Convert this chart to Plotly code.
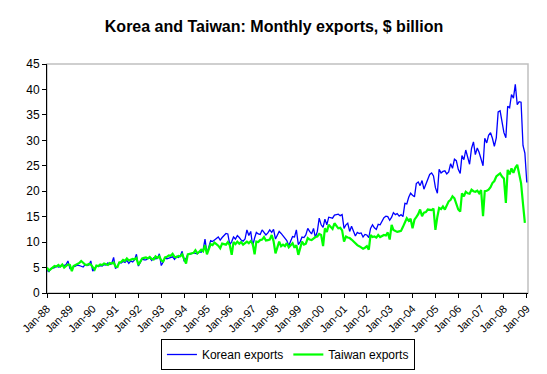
import pandas as pd
import plotly.graph_objects as go

# Monthly exports, $ billion (Jan-88 onward)
korea = [
    4.4, 4.2, 4.8, 4.9, 5.0, 5.3, 5.1, 5.2, 5.5, 5.4, 5.6, 6.3,   # 1988
    4.8, 4.9, 5.2, 5.3, 5.5, 5.4, 5.2, 5.1, 5.6, 5.4, 5.5, 6.3,   # 1989
    4.3, 4.8, 5.3, 5.2, 5.4, 5.3, 5.6, 5.5, 5.9, 5.6, 5.8, 7.0,   # 1990
    4.8, 5.3, 6.0, 5.9, 6.2, 6.0, 6.4, 5.8, 6.3, 6.1, 6.5, 7.6,   # 1991
    5.3, 6.0, 6.7, 6.5, 6.5, 6.8, 6.9, 6.4, 6.9, 6.7, 6.8, 7.7,   # 1992
    5.4, 6.1, 6.9, 6.7, 6.8, 7.0, 7.1, 6.6, 7.2, 7.0, 7.3, 8.2,   # 1993
    6.2, 6.8, 7.6, 7.6, 7.8, 7.9, 7.8, 7.7, 8.1, 8.0, 8.5, 10.6,  # 1994
    7.8, 9.4, 10.3, 10.1, 10.5, 10.7, 11.0, 10.4, 10.9, 11.2, 11.7, 11.6,  # 1995
    9.5, 10.1, 11.0, 10.6, 11.3, 10.9, 10.4, 10.2, 10.6, 12.4, 11.3, 12.1,  # 1996
    9.2, 10.8, 11.9, 11.6, 11.5, 12.4, 11.9, 11.4, 11.8, 12.4, 11.9, 12.5,  # 1997
    10.6, 11.4, 12.1, 11.7, 11.2, 10.8, 10.3, 9.3, 10.2, 11.1, 11.0, 12.4,  # 1998
    9.5, 10.1, 11.0, 10.9, 11.4, 12.7, 12.1, 11.6, 12.7, 10.9, 12.1, 14.7,  # 1999
    13.4, 12.9, 14.5, 13.4, 14.9, 14.8, 14.7, 15.3, 15.4, 15.5, 15.2, 15.4,  # 2000
    12.7, 13.4, 13.7, 12.1, 13.1, 12.0, 11.2, 11.9, 11.7, 11.8, 11.0, 11.5,  # 2001
    11.4, 10.9, 12.7, 13.4, 12.8, 12.5, 13.5, 13.4, 14.0, 14.8, 15.1, 15.0,  # 2002
    14.3, 14.9, 15.8, 15.4, 15.6, 15.1, 15.4, 15.0, 17.6, 17.5, 18.8, 19.6,  # 2003
    19.2, 18.9, 21.5, 21.8, 21.1, 22.1, 20.4, 21.5, 22.6, 23.3, 23.6, 23.0,  # 2004
    20.7, 19.6, 24.3, 23.6, 23.9, 24.0, 23.4, 23.8, 25.4, 24.5, 26.3, 26.0,  # 2005
    24.3, 23.5, 27.0, 26.2, 28.1, 26.7, 25.3, 28.4, 29.7, 27.2, 28.5, 27.6,  # 2006
    26.3, 25.0, 30.4, 29.5, 31.0, 31.5, 30.4, 28.8, 30.5, 35.6, 35.8, 33.5,  # 2007
    31.5, 30.5, 36.7, 36.4, 39.0, 38.3, 41.0, 37.0, 37.6, 37.5, 29.0, 27.5,  # 2008
    21.7,                                                           # 2009
]

taiwan = [
    5.0, 4.4, 4.7, 5.0, 5.3, 5.2, 5.5, 5.2, 5.6, 5.0, 5.4, 5.6,   # 1988
    5.5, 4.3, 5.3, 5.5, 5.8, 5.9, 6.3, 6.0, 5.6, 5.5, 5.7, 5.6,   # 1989
    5.0, 4.6, 5.4, 5.3, 5.6, 5.5, 5.8, 5.7, 5.5, 5.9, 5.8, 6.0,   # 1990
    5.2, 5.1, 6.0, 6.1, 6.5, 6.3, 6.8, 6.4, 6.6, 6.7, 6.6, 6.9,   # 1991
    5.5, 6.2, 6.8, 6.9, 7.0, 6.8, 7.1, 6.7, 6.6, 7.2, 6.9, 7.2,   # 1992
    6.4, 6.2, 7.0, 7.1, 7.4, 7.3, 7.7, 7.1, 7.0, 7.3, 7.2, 7.6,   # 1993
    6.5, 5.8, 7.6, 7.7, 7.8, 7.9, 8.4, 7.8, 8.1, 8.5, 8.2, 9.4,   # 1994
    7.6, 8.6, 9.6, 9.4, 9.9, 9.6, 9.3, 8.8, 9.7, 9.6, 9.5, 10.0,  # 1995
    9.4, 7.5, 10.0, 9.6, 10.1, 9.7, 10.0, 9.5, 9.8, 10.1, 9.8, 10.2,  # 1996
    9.7, 7.6, 10.1, 10.0, 10.4, 10.5, 11.0, 10.3, 10.4, 10.5, 11.4, 10.2,  # 1997
    7.8, 8.8, 10.1, 9.2, 9.5, 9.2, 9.8, 9.0, 9.4, 9.8, 8.9, 9.4,  # 1998
    7.5, 8.9, 10.1, 9.5, 9.7, 10.8, 10.5, 10.4, 10.8, 11.0, 11.1, 11.6,  # 1999
    11.4, 9.2, 12.7, 12.0, 13.4, 12.9, 12.6, 13.7, 13.2, 12.7, 12.8, 12.3,  # 2000
    10.1, 11.1, 10.9, 10.8, 10.5, 10.1, 9.6, 9.4, 9.2, 9.0, 8.7, 8.9,  # 2001
    9.2, 8.5, 11.4, 11.0, 11.1, 10.9, 11.4, 11.0, 11.2, 11.4, 11.3, 11.9,  # 2002
    10.5, 13.4, 12.4, 12.2, 12.0, 12.1, 12.2, 13.0, 13.8, 14.7, 14.2, 14.6,  # 2003
    12.7, 14.4, 14.9, 15.5, 16.4, 15.1, 15.8, 15.9, 16.4, 16.4, 16.3, 16.6,  # 2004
    12.4, 15.0, 16.7, 16.5, 17.0, 16.4, 17.2, 18.0, 18.3, 19.0, 18.6, 17.7,  # 2005
    16.4, 16.0, 19.6, 19.0, 19.9, 19.6, 19.5, 20.3, 20.0, 19.9, 20.1, 19.6,  # 2006
    20.2, 15.1, 20.0, 20.1, 20.3, 20.8, 21.6, 22.0, 22.9, 23.2, 23.5, 22.9,  # 2007
    22.5, 17.7, 24.2, 23.3, 24.5, 23.6, 24.6, 25.2, 23.4, 21.6, 17.5, 13.8,  # 2008
]

start_month = "1988-01-01"
y_ticks = [0, 5, 10, 15, 20, 25, 30, 35, 40, 45]

dates_k = pd.date_range(start_month, periods=len(korea), freq="MS")
dates_t = pd.date_range(start_month, periods=len(taiwan), freq="MS")

font_family = "Liberation Sans, Arial, sans-serif"

# The page places the figure 8px from the top-left corner (body margin),
# so the figure is sized to fit the remaining window.
W, H = 539, 366

fig = go.Figure()
fig.add_trace(go.Scatter(x=dates_k, y=korea, mode="lines", name="Korean exports",
                         line=dict(color="#0000FF", width=1.3)))
fig.add_trace(go.Scatter(x=dates_t, y=taiwan, mode="lines", name="Taiwan exports",
                         line=dict(color="#00FF00", width=2.2)))

fig.update_layout(
    width=W, height=H,
    margin=dict(l=39, r=19, t=56, b=81, autoexpand=False),
    paper_bgcolor="white", plot_bgcolor="white",
    font=dict(family=font_family, color="black", size=11),
    title=dict(text="<b>Korea and Taiwan: Monthly exports, $ billion</b>",
               x=266 / W, xref="container", xanchor="center",
               y=1 - 18 / H, yref="container", yanchor="middle",
               font=dict(size=16, family=font_family, color="black")),
    showlegend=True,
    legend=dict(orientation="h", x=270 / W, xanchor="center",
                y=1 - 331 / H, yref="container", yanchor="top",
                bordercolor="black", borderwidth=1, bgcolor="white",
                font=dict(size=12, family=font_family), itemwidth=30,
                tracegroupgap=0),
    shapes=[dict(type="rect", xref="paper", yref="paper", x0=0, x1=1, y0=0, y1=1,
                 line=dict(color="#C0C0C0", width=1.5), layer="below")],
)

fig.update_xaxes(
    type="date",
    range=["1988-01-01", "2009-01-20"],
    tick0=start_month, dtick="M12", tickformat="%b-%y",
    tickangle=-45, ticks="outside", ticklen=4, tickcolor="black",
    showline=True, linecolor="black", linewidth=1,
    showgrid=False, zeroline=False, automargin=False,
    tickfont=dict(size=11, family=font_family),
)
fig.update_yaxes(
    range=[0, 45], tickvals=y_ticks,
    ticks="outside", ticklen=4, tickcolor="black",
    showline=True, linecolor="black", linewidth=1,
    showgrid=False, zeroline=False, automargin=False,
    tickfont=dict(size=12, family=font_family),
)

fig.write_html("out.html")
